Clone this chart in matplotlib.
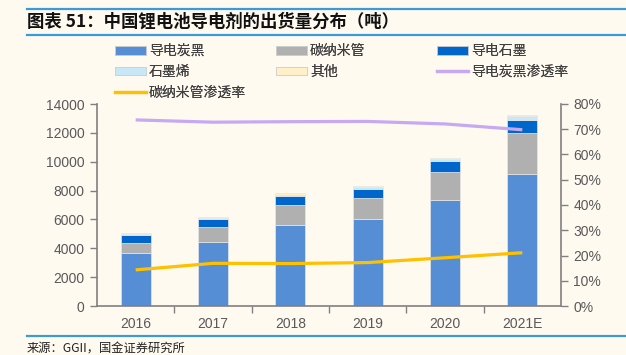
#!/usr/bin/env python3
# -*- coding: utf-8 -*-
"""
Распределение поставок токопроводящих добавок (т) + доли проникновения.
"""

import numpy as np
import matplotlib.pyplot as plt
from matplotlib.patches import Patch
from matplotlib.lines import Line2D
from matplotlib.ticker import FuncFormatter, FixedLocator

plt.rcParams["font.family"] = ["Liberation Sans", "Noto Sans CJK SC", "DejaVu Sans"]
CJK = ["Noto Sans CJK SC", "DejaVu Sans"]

years = ["2016", "2017", "2018", "2019", "2020", "2021E"]
carbon_black = [3650, 4420, 5640, 6010, 7350, 9170]   # 导电炭黑
cnt = [740, 1060, 1340, 1450, 1920, 2840]             # 碳纳米管
graphite = [550, 570, 620, 670, 800, 900]             # 导电石墨
graphene = [50, 40, 90, 95, 95, 240]                  # 石墨烯
other = [70, 60, 120, 90, 70, 70]                     # 其他
cb_rate = [73.7, 72.8, 73.0, 73.1, 72.1, 69.8]        # 导电炭黑渗透率, %
cnt_rate = [14.3, 16.9, 16.8, 17.2, 19.1, 21.1]       # 碳纳米管渗透率, %

BG = "#FEFAF0"
C_CB = "#558ED5"
C_CNT = "#B0B0B0"
C_GR = "#0066CC"
C_GN = "#C9E8F7"
C_OT = "#FFF0C8"
C_CBR = "#C7A8F2"
C_CNTR = "#FFC000"
AX = "#808080"
TXT = "#595959"

W, H = 626, 355
fig = plt.figure(figsize=(W / 100, H / 100), dpi=100, facecolor=BG)

# рамка: линии заголовка и источника
for y, x0 in [(9, 27), (35, 27), (336, 27)]:
    fig.add_artist(Line2D([x0 / W, 1], [1 - y / H] * 2, color="#3C9AD6", lw=1.6))
fig.text(27 / W, 1 - 22 / H, "图表 51：中国锂电池导电剂的出货量分布（吨）",
         family=CJK, fontsize=12.5, fontweight="bold", va="center", color="#111111")
fig.text(27 / W, 1 - 349 / H, "来源：GGII，国金证券研究所",
         family=CJK, fontsize=8.8, va="center", color="#222222")

ax = fig.add_axes([97 / W, 1 - 306 / H, (561 - 97) / W, (306 - 104) / H])
ax.set_facecolor(BG)
x = np.arange(len(years))
bw = 0.39
series = [(carbon_black, C_CB), (cnt, C_CNT), (graphite, C_GR),
          (graphene, C_GN), (other, C_OT)]
bottom = np.zeros(len(years))
for vals, col in series:
    ax.bar(x, vals, bw, bottom=bottom, color=col, edgecolor="#E6E6E6",
           linewidth=0.5, zorder=2)
    bottom += np.array(vals)

ax.set_xlim(-0.5, len(years) - 0.5)
ax.set_ylim(0, 14000)
ax.set_yticks(np.arange(0, 14001, 2000))
ax.set_xticks(x)
ax.set_xticklabels(years)
ax.xaxis.set_minor_locator(FixedLocator(np.arange(0.5, len(years) - 1, 1)))
ax.tick_params(axis="x", which="major", length=0, pad=8, labelsize=10, labelcolor=TXT)
ax.tick_params(axis="x", which="minor", length=5, direction="out", color=AX, width=1)
ax.tick_params(axis="y", length=5, direction="out", color=AX, width=1,
               labelsize=10, labelcolor=TXT, pad=4)
for s in ["top", "right"]:
    ax.spines[s].set_visible(False)
for s in ["left", "bottom"]:
    ax.spines[s].set_color(AX)
    ax.spines[s].set_linewidth(1.2)

ax2 = ax.twinx()
ax2.set_ylim(0, 80)
ax2.set_yticks(np.arange(0, 81, 10))
ax2.yaxis.set_major_formatter(FuncFormatter(lambda v, p: f"{v:.0f}%"))
ax2.tick_params(axis="y", length=5, direction="out", color=AX, width=1,
                labelsize=10, labelcolor=TXT, pad=4)
for s in ["top", "left", "bottom"]:
    ax2.spines[s].set_visible(False)
ax2.spines["right"].set_color(AX)
ax2.spines["right"].set_linewidth(1.2)
ax2.plot(x, cb_rate, color=C_CBR, lw=2.3, solid_capstyle="butt", zorder=3)
ax2.plot(x, cnt_rate, color=C_CNTR, lw=2.3, solid_capstyle="butt", zorder=3)

# легенда: три колонки, строки идут слева направо
def patch(c):
    return Patch(facecolor=c, edgecolor="#D0D0D0", linewidth=0.6)

cols = [
    (115, [patch(C_CB), patch(C_GN), Line2D([], [], color=C_CNTR, lw=2.3)],
     ["导电炭黑", "石墨烯", "碳纳米管渗透率"]),
    (276, [patch(C_CNT), patch(C_OT)], ["碳纳米管", "其他"]),
    (437, [patch(C_GR), Line2D([], [], color=C_CBR, lw=2.3)], ["导电石墨", "导电炭黑渗透率"]),
]
for px, hs, ls in cols:
    leg = fig.legend(hs, ls, loc="upper left", bbox_to_anchor=(px / W, 1 - 44 / H),
                     frameon=False, prop={"family": CJK, "size": 10},
                     handlelength=2.2, handleheight=0.6, handletextpad=0.25,
                     labelspacing=0.5, borderpad=0, borderaxespad=0,
                     labelcolor="#404040")
    fig.add_artist(leg)

fig.savefig("out.png", dpi=100, facecolor=BG)
